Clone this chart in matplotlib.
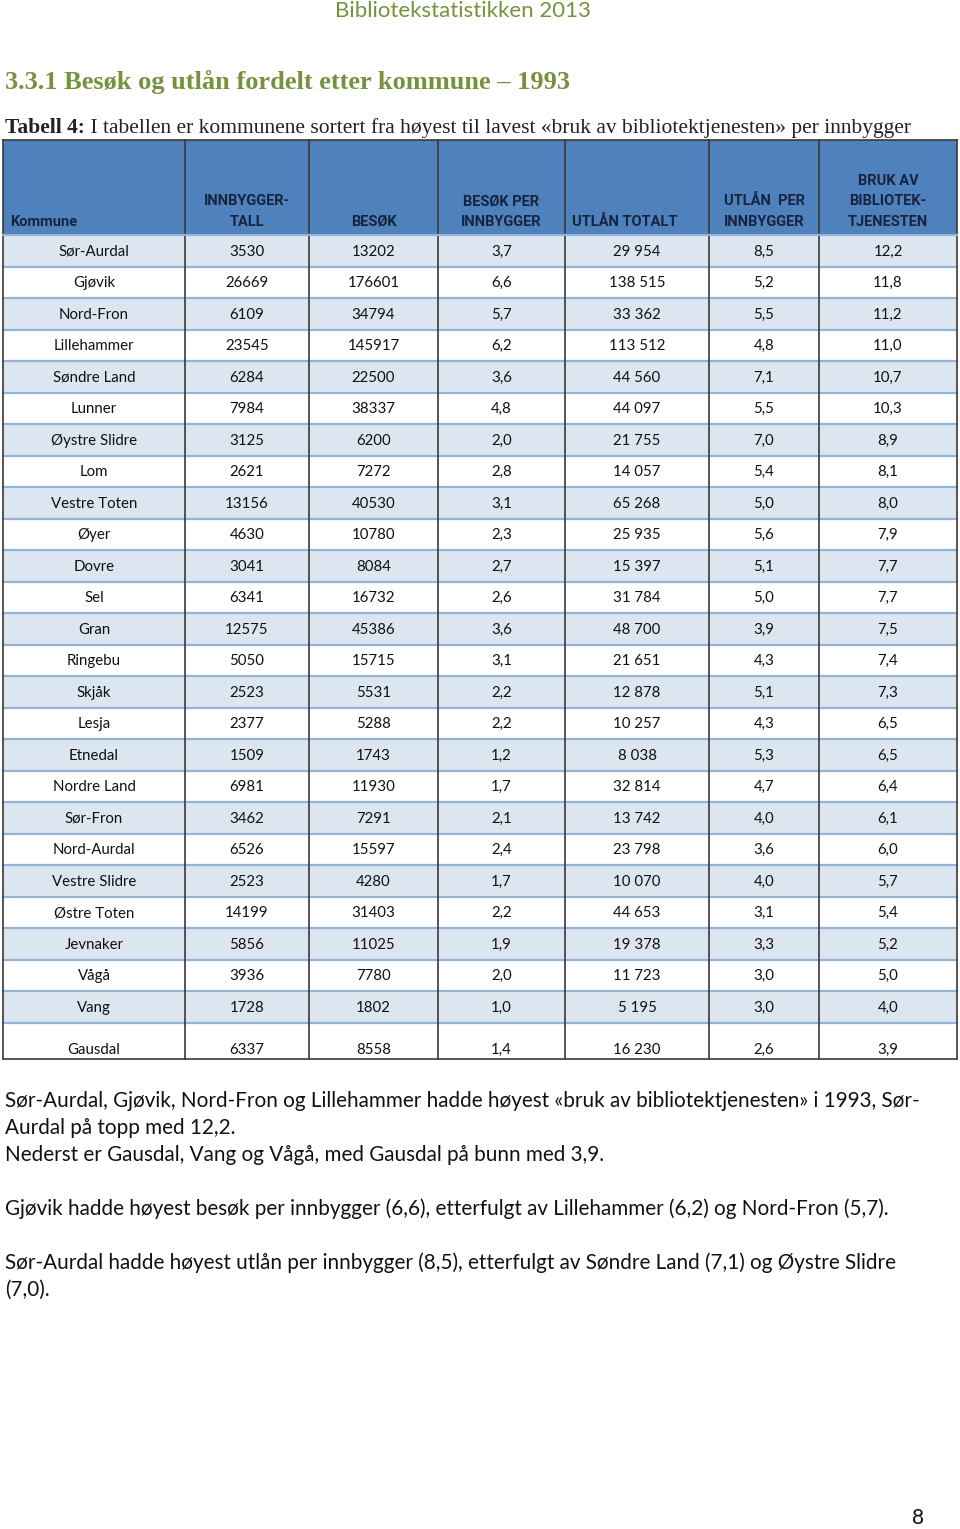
import matplotlib
matplotlib.use("Agg")
import matplotlib.pyplot as plt
from matplotlib.patches import Rectangle

# Table data (1993)
kommuner = ["Sør-Aurdal", "Gjøvik", "Nord-Fron", "Lillehammer", "Søndre Land",
            "Lunner", "Øystre Slidre", "Lom", "Vestre Toten", "Øyer", "Dovre",
            "Sel", "Gran", "Ringebu", "Skjåk", "Lesja", "Etnedal", "Nordre Land",
            "Sør-Fron", "Nord-Aurdal", "Vestre Slidre", "Østre Toten", "Jevnaker",
            "Vågå", "Vang", "Gausdal"]
innbyggere = [3530, 26669, 6109, 23545, 6284, 7984, 3125, 2621, 13156, 4630, 3041,
              6341, 12575, 5050, 2523, 2377, 1509, 6981, 3462, 6526, 2523, 14199,
              5856, 3936, 1728, 6337]
besok = [13202, 176601, 34794, 145917, 22500, 38337, 6200, 7272, 40530, 10780,
         8084, 16732, 45386, 15715, 5531, 5288, 1743, 11930, 7291, 15597, 4280,
         31403, 11025, 7780, 1802, 8558]
besok_per_innb = [3.7, 6.6, 5.7, 6.2, 3.6, 4.8, 2.0, 2.8, 3.1, 2.3, 2.7, 2.6, 3.6,
                  3.1, 2.2, 2.2, 1.2, 1.7, 2.1, 2.4, 1.7, 2.2, 1.9, 2.0, 1.0, 1.4]
utlan = [29954, 138515, 33362, 113512, 44560, 44097, 21755, 14057, 65268, 25935,
         15397, 31784, 48700, 21651, 12878, 10257, 8038, 32814, 13742, 23798,
         10070, 44653, 19378, 11723, 5195, 16230]
utlan_per_innb = [8.5, 5.2, 5.5, 4.8, 7.1, 5.5, 7.0, 5.4, 5.0, 5.6, 5.1, 5.0, 3.9,
                  4.3, 5.1, 4.3, 5.3, 4.7, 4.0, 3.6, 4.0, 3.1, 3.3, 3.0, 3.0, 2.6]
bruk = [12.2, 11.8, 11.2, 11.0, 10.7, 10.3, 8.9, 8.1, 8.0, 7.9, 7.7, 7.7, 7.5,
        7.4, 7.3, 6.5, 6.5, 6.4, 6.1, 6.0, 5.7, 5.4, 5.2, 5.0, 4.0, 3.9]

headers = ["Kommune", "INNBYGGER-\nTALL", "BESØK", "BESØK PER\nINNBYGGER",
           "UTLÅN TOTALT", "UTLÅN  PER\nINNBYGGER", "BRUK AV\nBIBLIOTEK-\nTJENESTEN"]

paragraphs = [
    "Sør-Aurdal, Gjøvik, Nord-Fron og Lillehammer hadde høyest «bruk av bibliotektjenesten» i 1993, Sør-",
    "Aurdal på topp med 12,2.",
    "Nederst er Gausdal, Vang og Vågå, med Gausdal på bunn med 3,9.",
    "",
    "Gjøvik hadde høyest besøk per innbygger (6,6), etterfulgt av Lillehammer (6,2) og Nord-Fron (5,7).",
    "",
    "Sør-Aurdal hadde høyest utlån per innbygger (8,5), etterfulgt av Søndre Land (7,1) og Øystre Slidre",
    "(7,0).",
]


def dec(v):
    return f"{v:.1f}".replace(".", ",")


def thousands(v):
    return f"{v:,}".replace(",", " ")


def plot_table():
    fig = plt.figure(figsize=(9.6, 15.29), dpi=100)
    ax = fig.add_axes([0, 0, 1, 1])
    ax.set_xlim(0, 960)
    ax.set_ylim(1529, 0)
    ax.axis("off")

    green = "#76923C"
    sans = ["Lato", "DejaVu Sans"]
    bold_sans = ["Roboto", "DejaVu Sans"]
    serif = ["Liberation Serif", "DejaVu Serif"]

    # Page header and headings
    ax.text(463, 11, "Bibliotekstatistikken 2013", color=green, fontsize=16,
            family=sans, ha="center", va="center")
    ax.text(5, 82, "3.3.1 Besøk og utlån fordelt etter kommune – 1993", color=green,
            fontsize=19, family=serif, fontweight="bold", ha="left", va="center")
    t = ax.text(5, 128, "Tabell 4:", color="#222222", fontsize=15.5, family=serif,
                fontweight="bold", ha="left", va="center")
    ax.annotate(" I tabellen er kommunene sortert fra høyest til lavest «bruk av bibliotektjenesten» per innbygger",
                xycoords=t, xy=(1, 0.5), va="center", ha="left", fontsize=15.5,
                family=serif, color="#222222")

    # Table geometry
    col_edges = [3, 185, 309, 438, 565, 709, 819, 957]
    head_top, head_bot = 140, 235
    row_h = 31.5
    last_h = 36
    n = len(kommuner)

    rows = []
    for i in range(n):
        rows.append([kommuner[i], str(innbyggere[i]), str(besok[i]),
                     dec(besok_per_innb[i]), thousands(utlan[i]),
                     dec(utlan_per_innb[i]), dec(bruk[i])])

    # header
    ax.add_patch(Rectangle((col_edges[0], head_top), col_edges[-1] - col_edges[0],
                           head_bot - head_top, facecolor="#4F81BD", edgecolor="none"))
    hcolor = "#16243F"
    for j, h in enumerate(headers):
        x0, x1 = col_edges[j], col_edges[j + 1]
        if j in (0, 4):
            x, ha = x0 + 7, "left"
        else:
            x, ha = (x0 + x1) / 2, "center"
        ax.text(x, 226, h, ha=ha, va="baseline", fontsize=10.5, fontweight="bold",
                family=bold_sans, color=hcolor, linespacing=1.6,
                multialignment="center")

    # body rows
    y = head_bot
    for i, row in enumerate(rows):
        h = last_h if i == n - 1 else row_h
        fc = "#DCE6F1" if i % 2 == 0 else "white"
        ax.add_patch(Rectangle((col_edges[0], y), col_edges[-1] - col_edges[0], h,
                               facecolor=fc, edgecolor="none"))
        if i < n - 1:
            ty, va = y + h / 2 + 1, "center"
        else:
            ty, va = y + h - 5, "baseline"
        for j, val in enumerate(row):
            ax.text((col_edges[j] + col_edges[j + 1]) / 2, ty, val, ha="center",
                    va=va, fontsize=10.8, family=sans, color="#111111")
        if i > 0:
            ax.plot([col_edges[0], col_edges[-1]], [y, y], color="#95B3D7", lw=1.6)
        y += h
    bottom = y

    # vertical lines and border
    for x in col_edges:
        ax.plot([x, x], [head_top, bottom], color="#3A3A3A", lw=1.2)
    ax.plot([col_edges[0], col_edges[-1]], [bottom, bottom], color="#3A3A3A", lw=1.2)
    ax.plot([col_edges[0], col_edges[-1]], [head_top, head_top], color="#3A3A3A", lw=1.2)
    ax.plot([col_edges[0], col_edges[-1]], [head_bot, head_bot], color="#95B3D7", lw=1.6)

    # paragraphs below the table
    py = 1101
    for line in paragraphs:
        if line:
            ax.text(5, py, line, ha="left", va="center", fontsize=14.85, family=sans,
                    color="#111111")
        py += 27

    ax.text(918, 1518, "8", ha="center", va="center", fontsize=15, family=sans,
            color="#111111")

    fig.savefig("out.png", dpi=100)


if __name__ == "__main__":
    plot_table()
